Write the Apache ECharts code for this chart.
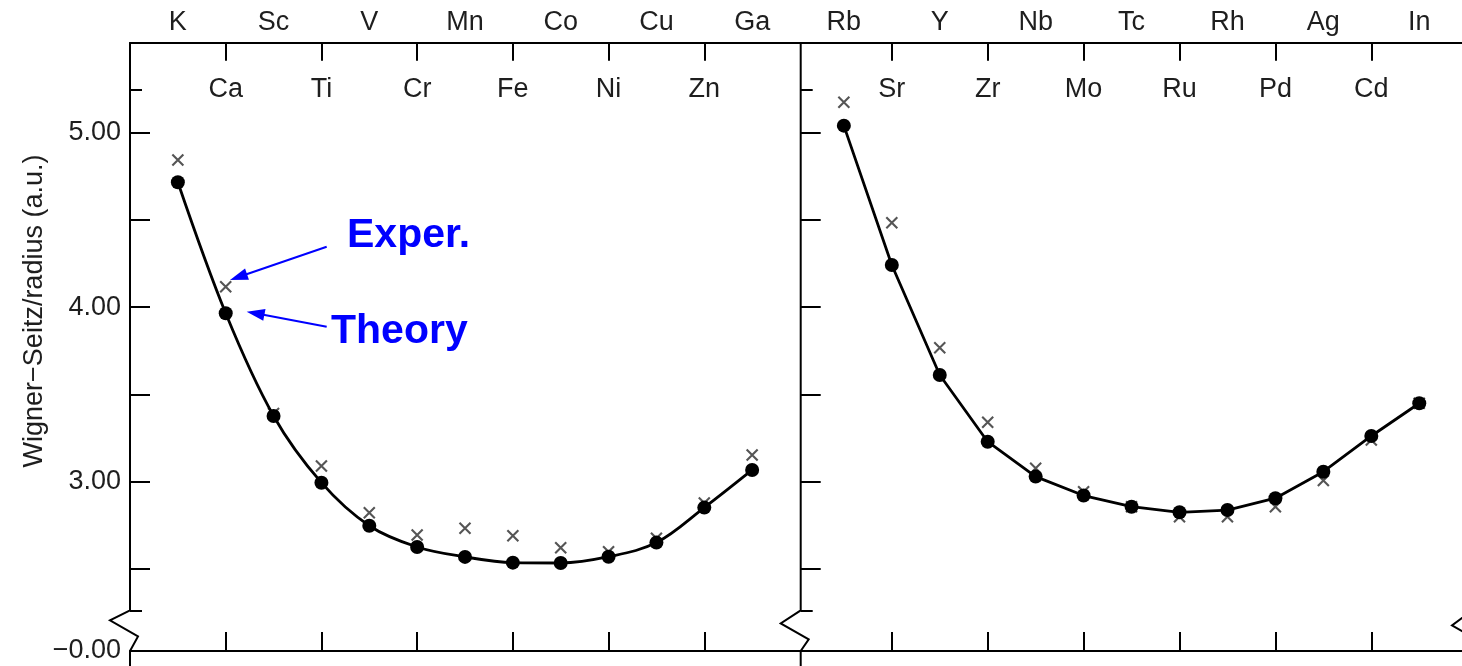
<!DOCTYPE html>
<html>
<head>
<meta charset="utf-8">
<script src="https://cdn.jsdelivr.net/npm/echarts@6/dist/echarts.min.js"></script>
<style>
  html, body { margin: 0; padding: 0; background: #fff; }
  #chart { width: 1462px; height: 666px; }
</style>
</head>
<body>
<div id="chart"></div>
<script>
// Period 4 (K..Ga) and period 5 (Rb..In) elements
const period4 = ['K', 'Ca', 'Sc', 'Ti', 'V', 'Cr', 'Mn', 'Fe', 'Co', 'Ni', 'Cu', 'Zn', 'Ga'];
const theory4 = [4.717, 3.965, 3.376, 2.993, 2.746, 2.624, 2.567, 2.534, 2.532, 2.568, 2.649, 2.850, 3.066];
const exper4  = [4.845, 4.118, 3.390, 3.089, 2.821, 2.693, 2.731, 2.689, 2.620, 2.597, 2.674, 2.877, 3.152];

const period5 = ['Rb', 'Sr', 'Y', 'Zr', 'Nb', 'Mo', 'Tc', 'Ru', 'Rh', 'Pd', 'Ag', 'Cd', 'In'];
const theory5 = [5.042, 4.242, 3.611, 3.228, 3.028, 2.919, 2.855, 2.823, 2.836, 2.904, 3.056, 3.261, 3.449];
const exper5  = [5.176, 4.485, 3.768, 3.340, 3.076, 2.941, 2.855, 2.798, 2.798, 2.855, 3.005, 3.238, 3.449];

// Y axis: broken axis, the bottom line stands for zero
const yMajorTicks = [2.5, 3.0, 3.5, 4.0, 4.5, 5.0];
const yLabelValues = [3.0, 4.0, 5.0];
const yEndTicks = [2.26, 5.25];
const Y_MIN = 2.027;     // value placed on the bottom line (drawn as the broken-off zero)
const Y_BREAK = 2.26;    // where the axis line breaks
const Y_MAX = 5.518;

const X4 = [-1, 13];
const X5 = [-0.9, 13.1];

const FONT = '"Liberation Sans", Arial, Helvetica, sans-serif';
const TEXT = '#1e1e1e';
const FS = 27;
const evenIdx = period4.map((_, i) => i).filter(i => i % 2 === 0);
const oddIdx = period4.map((_, i) => i).filter(i => i % 2 === 1);
const CROSS = 'path://M0,0L10,10M0,10L10,0';

const chart = echarts.init(document.getElementById('chart'), null, { renderer: 'canvas' });

function xAxesFor(gridIndex, range, names) {
  const base = {
    type: 'value', gridIndex, min: range[0], max: range[1],
    splitLine: { show: false },
    axisLine: { show: true, onZero: false, lineStyle: { color: '#000', width: 2 } }
  };
  const fmt = v => names[Math.round(v)] || '';
  return [
    // top, labels above the frame
    Object.assign({}, base, {
      position: 'top',
      axisTick: { show: false },
      axisLabel: { show: true, customValues: evenIdx, formatter: fmt, margin: 7,
        color: TEXT, fontSize: FS, fontFamily: FONT }
    }),
    // top, ticks and labels inside the frame
    Object.assign({}, base, {
      position: 'top',
      axisTick: { show: true, inside: true, length: 18, customValues: oddIdx,
        lineStyle: { color: '#000', width: 2 } },
      axisLabel: { show: true, inside: true, customValues: oddIdx, formatter: fmt, margin: 33,
        color: TEXT, fontSize: FS, fontFamily: FONT }
    }),
    // bottom
    Object.assign({}, base, {
      position: 'bottom',
      axisTick: { show: true, inside: true, length: 19, customValues: oddIdx,
        lineStyle: { color: '#000', width: 2 } },
      axisLabel: { show: false }
    })
  ];
}

function yAxesFor(gridIndex, withLabels) {
  const base = {
    type: 'value', gridIndex, min: Y_MIN, max: Y_MAX, position: 'left',
    splitLine: { show: false },
    axisLine: { show: false, onZero: false }
  };
  return [
    Object.assign({}, base, {
      axisTick: { show: true, inside: true, length: 20, customValues: yMajorTicks,
        lineStyle: { color: '#000', width: 2 } },
      axisLabel: withLabels ? {
        show: true, customValues: [Y_MIN].concat(yLabelValues), margin: 9,
        formatter: v => (v < Y_BREAK ? '\u22120.00' : v.toFixed(2)),
        color: TEXT, fontSize: FS, fontFamily: FONT
      } : { show: false }
    }),
    Object.assign({}, base, {
      axisTick: { show: true, inside: true, length: 12, customValues: yEndTicks,
        lineStyle: { color: '#000', width: 2 } },
      axisLabel: { show: false }
    })
  ];
}

// Vertical frame lines with the zig-zag axis break; each edge is [xValue, tipDrop, returnDrop]
function frameRenderer(edges) {
  return function (params, api) {
    const yTop = api.coord([0, Y_MAX])[1];
    const yBrk = api.coord([0, Y_BREAK])[1];
    const yBot = api.coord([0, Y_MIN])[1];
    const children = edges.map(([xv, tip, back]) => {
      const x = api.coord([xv, Y_MIN])[0];
      return {
        type: 'polyline',
        shape: { points: [[x, yTop], [x, yBrk], [x - 20, yBrk + tip], [x + 8, yBrk + back], [x, yBot], [x, yBot + 30]] },
        style: { stroke: '#000', lineWidth: 2, fill: 'none' }
      };
    });
    return { type: 'group', children };
  };
}

function experSeries(xi, yi, values) {
  return {
    type: 'scatter', xAxisIndex: xi, yAxisIndex: yi,
    data: values.map((v, i) => [i, v]),
    symbol: CROSS, symbolSize: 11,
    itemStyle: { color: 'transparent', borderColor: '#2a2a2a', borderWidth: 2.1 },
    z: 2, silent: true
  };
}

function theorySeries(xi, yi, values, smooth) {
  return {
    type: 'line', xAxisIndex: xi, yAxisIndex: yi,
    data: values.map((v, i) => [i, v]),
    smooth, symbol: 'circle', symbolSize: 14, showAllSymbol: true,
    lineStyle: { color: '#000', width: 2.8 },
    itemStyle: { color: '#000' },
    z: 3, silent: true
  };
}

const ANNO = '#0000ff';

const theoryLeft = theorySeries(0, 0, theory4, 0.35);
theoryLeft.markLine = {
  silent: true, animation: false,
  symbol: ['none', 'triangle'], symbolSize: [12, 18],
  lineStyle: { color: ANNO, width: 2, type: 'solid' },
  itemStyle: { color: ANNO },
  label: { show: false },
  emphasis: { disabled: true },
  data: [
    [{ coord: [3.11, 4.347] }, { coord: [1.267, 4.173] }],
    [{ coord: [3.11, 3.888] }, { coord: [1.623, 3.965] }]
  ]
};

const option = {
  animation: false,
  backgroundColor: '#fff',
  grid: [
    { left: 130, right: 662, top: 42.7, bottom: 15, containLabel: false, outerBoundsMode: 'none' },
    { left: 800.7, right: -10, top: 42.7, bottom: 15, containLabel: false, outerBoundsMode: 'none' }
  ],
  xAxis: xAxesFor(0, X4, period4).concat(xAxesFor(1, X5, period5)),
  yAxis: yAxesFor(0, true).concat(yAxesFor(1, false)),
  series: [
    { type: 'custom', xAxisIndex: 0, yAxisIndex: 0, renderItem: frameRenderer([[X4[0], 10, 26]]),
      data: [[X4[0], Y_MAX]], clip: false, silent: true, z: 5 },
    { type: 'custom', xAxisIndex: 3, yAxisIndex: 2,
      renderItem: frameRenderer([[X5[0], 13, 29], [X5[1], 15, 31]]),
      data: [[X5[0], Y_MAX]], clip: false, silent: true, z: 5 },
    experSeries(0, 0, exper4),
    theoryLeft,
    experSeries(3, 2, exper5),
    theorySeries(3, 2, theory5, false)
  ],
  graphic: [
    { type: 'text', x: 35, y: 311, rotation: Math.PI / 2, silent: true,
      style: { text: 'Wigner\u2212Seitz/radius (a.u.)', fill: TEXT, font: FS + 'px ' + FONT,
        align: 'center', verticalAlign: 'middle', textAlign: 'center', textVerticalAlign: 'middle' } },
    { type: 'text', x: 347, y: 236, silent: true,
      style: { text: 'Exper.', fill: ANNO, font: 'bold 41px ' + FONT,
        align: 'left', verticalAlign: 'middle', textAlign: 'left', textVerticalAlign: 'middle' } },
    { type: 'text', x: 331, y: 332, silent: true,
      style: { text: 'Theory', fill: ANNO, font: 'bold 41px ' + FONT,
        align: 'left', verticalAlign: 'middle', textAlign: 'left', textVerticalAlign: 'middle' } }
  ]
};

chart.setOption(option);
</script>
</body>
</html>
